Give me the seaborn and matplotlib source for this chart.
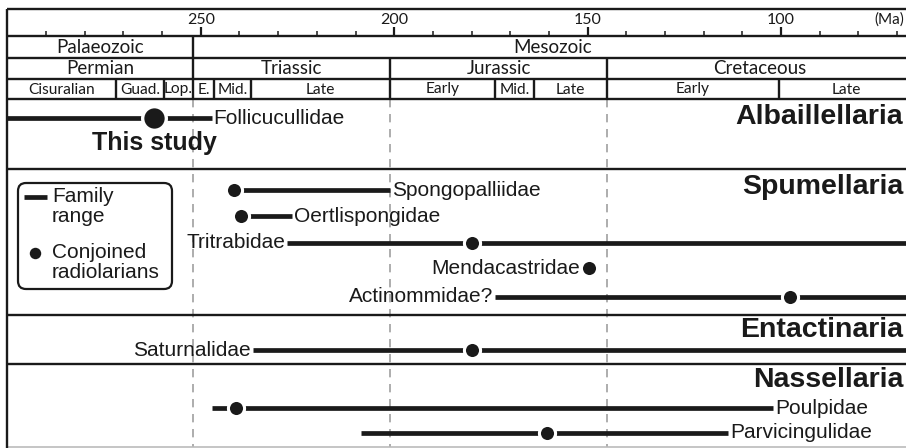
#!/usr/bin/env python3
"""Stratigraphic ranges of radiolarian families with conjoined specimens."""

import matplotlib.pyplot as plt
import pandas as pd
import seaborn as sns
from matplotlib.patches import FancyBboxPatch

# --- data -----------------------------------------------------------------
families = [
    "Follicucullidae", "Spongopalliidae", "Oertlispongidae", "Tritrabidae",
    "Mendacastridae", "Actinommidae?", "Saturnalidae", "Poulpidae", "Parvicingulidae",
]
first_ma = [300, 241.4, 239.7, 227.7, None, 174.0, 236.5, 247.0, 208.7]
last_ma = [247.2, 201.0, 226.5, 60, None, 60, 60, 102.0, 113.6]
conjoined_ma = [262.0, 241.4, 239.7, 179.8, 149.6, 97.6, 179.8, 241.0, 160.6]
label_side = ["right", "right", "right", "left", "left", "left", "left", "right", "right"]

orders = ["Albaillellaria", "Spumellaria", "Entactinaria", "Nassellaria"]

eras = ["Palaeozoic", "Mesozoic"]
era_bounds = [(300, 252), (252, 66)]
periods = ["Permian", "Triassic", "Jurassic", "Cretaceous"]
period_bounds = [(300, 252), (252, 201), (201, 145), (145, 66)]
epochs = ["Cisuralian", "Guad.", "Lop.", "E.", "Mid.", "Late",
          "Early", "Mid.", "Late", "Early", "Late"]
epoch_bounds = [(300, 272), (272, 259.5), (259.5, 252), (252, 246.5), (246.5, 237),
                (237, 201), (201, 174), (174, 163.8), (163.8, 145), (145, 100.5),
                (100.5, 66)]
major_ticks = [250, 200, 150, 100]
minor_ticks = [290, 280, 270, 260, 240, 230, 220, 210, 190, 180, 170, 160,
               140, 130, 120, 110, 90, 80, 70]
dashed_ma = [252, 201, 145]

# --- layout (pixel rows, y grows downward) ----------------------------------
family_y = [118, 190, 216, 243, 268, 297, 350, 408, 433]
order_y = [117, 187, 330, 380]
section_lines = [9, 36, 58, 79, 99, 169, 315, 364]
INK = "#1a1a1a"
SANS = ["Liberation Sans", "DejaVu Sans"]
SCALE = ["Lato", "DejaVu Sans"]

sns.set_theme(style="white")
plt.rcParams["font.family"] = SANS

fig = plt.figure(figsize=(9.06, 4.48), dpi=100)
ax = fig.add_axes([0, 0, 1, 1])

# frame and section lines
for y in section_lines:
    ax.hlines(y, 300, 60, color=INK, lw=1.7, zorder=2)
ax.hlines(447, 300, 60, color="#bbbbbb", lw=1.2)
ax.vlines(300, 9, 448, color=INK, lw=1.7)

# time scale header
for tick in major_ticks:
    ax.vlines(tick, 27, 36, color=INK, lw=1.6)
    ax.text(tick, 20, str(tick), ha="center", va="center", fontsize=11.5,
            family=SCALE, color=INK)
ax.vlines(minor_ticks, 31, 36, color=INK, lw=1.1)
ax.text(75.8, 20, "(Ma)", ha="left", va="center", fontsize=11, family=SCALE,
        color=INK, clip_on=False)

rows = [(eras, era_bounds, 36, 58, 13.5), (periods, period_bounds, 58, 79, 13.5),
        (epochs, epoch_bounds, 79, 99, 11.2)]
for names, bounds, top, bottom, size in rows:
    for name, (old, young) in zip(names, bounds):
        if old < 300:
            ax.vlines(old, top, bottom, color=INK, lw=1.7)
        ax.text((old + young) / 2, (top + bottom) / 2 + 0.5, name, ha="center",
                va="center", fontsize=size, family=SCALE, color=INK)

ax.vlines(dashed_ma, 99, 447, color="#a0a0a0", lw=1.2, linestyles=(0, (5, 4)), zorder=1)

# ranges
ranges = pd.DataFrame({"family": families, "first": first_ma, "last": last_ma,
                       "dot": conjoined_ma, "side": label_side, "y": family_y})
bars = ranges.dropna(subset=["first"])
ax.hlines(bars.y, bars["first"], bars["last"], color=INK, lw=3.4, zorder=3)

study = ranges.iloc[:1]
others = ranges.iloc[1:]
sns.scatterplot(data=others, x="dot", y="y", s=135, color=INK, edgecolor="white",
                linewidth=2.2, ax=ax, zorder=4, legend=False)
sns.scatterplot(data=study, x="dot", y="y", s=290, color=INK, edgecolor="white",
                linewidth=2.4, ax=ax, zorder=4, legend=False)
ax.set_xlim(301.9, 67.7)
ax.set_ylim(448, 0)
ax.axis("off")

for _, row in ranges.iterrows():
    if row.side == "right":
        x, ha = row["last"] - 0.5, "left"
    elif pd.notna(row["first"]):
        x, ha = row["first"] + 0.5, "right"
    else:
        x, ha = row["dot"] + 2.4, "right"
    ax.text(x, row.y, row.family, ha=ha, va="center", fontsize=15, color=INK)

ax.text(262, 143, "This study", ha="center", va="center", fontsize=18,
        fontweight="bold", color=INK)
for name, y in zip(orders, order_y):
    ax.text(68.4, y, name, ha="right", va="center", fontsize=20.5,
            fontweight="bold", color=INK, clip_on=False)

# legend (pixel overlay)
ov = fig.add_axes([0, 0, 1, 1], facecolor="none")
ov.set_xlim(0, 906)
ov.set_ylim(448, 0)
ov.axis("off")
ov.add_patch(FancyBboxPatch((18, 183), 154, 106, boxstyle="round,pad=0,rounding_size=8",
                            facecolor="white", edgecolor=INK, lw=1.6, zorder=5))
ov.plot([24, 47], [197, 197], color=INK, lw=3.4, solid_capstyle="butt", zorder=6)
ov.scatter([35], [253], s=95, color=INK, edgecolor="white", linewidth=1.5, zorder=6)
for text, y in [("Family", 197), ("range", 216), ("Conjoined", 253), ("radiolarians", 272)]:
    ov.text(52, y, text, ha="left", va="center", fontsize=15, color=INK, zorder=6)

fig.savefig("out.png", dpi=100)
plt.close(fig)
